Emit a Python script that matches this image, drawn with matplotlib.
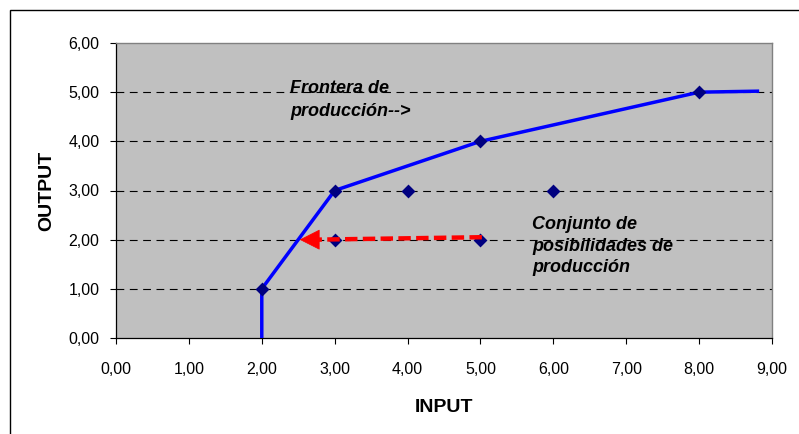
import matplotlib
matplotlib.use("Agg")
import matplotlib.pyplot as plt
from matplotlib.patches import Rectangle, FancyArrowPatch

plt.rcParams['font.family'] = ['Liberation Sans', 'DejaVu Sans']

# Production frontier (input -> output)
frontier_x = [2, 2, 3, 5, 8, 8.8]
frontier_y = [0, 1, 3, 4, 5, 5.02]

# Observed production units
obs_x = [2, 3, 3, 4, 5, 5, 6, 8]
obs_y = [1, 3, 2, 3, 4, 2, 3, 5]

# Projection of unit (5, 2) onto the frontier
arrow_start = (5.02, 2.05)
arrow_base = (2.72, 2.0)
arrow_end = (2.52, 2.0)

x_ticks = [0, 1, 2, 3, 4, 5, 6, 7, 8, 9]
y_ticks = [0, 1, 2, 3, 4, 5, 6]

W, H = 799, 434
fig = plt.figure(figsize=(W / 100, H / 100), dpi=100)
fig.patch.set_facecolor('white')

# outer chart border
fig.patches.append(Rectangle((10 / W, -0.1), 1.2, (H - 10) / H + 0.1,
                             transform=fig.transFigure, fill=False,
                             edgecolor='black', linewidth=1.0))

ax = fig.add_axes([116 / W, (H - 338) / H, (772 - 116) / W, (338 - 43) / H])
ax.set_facecolor('#C0C0C0')
ax.set_xlim(0, 9)
ax.set_ylim(0, 6)

for y in y_ticks[1:-1]:
    ax.axhline(y, color='black', linewidth=0.8, linestyle=(0, (7, 5)), zorder=1)

ax.plot(frontier_x, frontier_y, color='#0000FF', linewidth=2.5, zorder=3,
        solid_joinstyle='miter')
ax.scatter(obs_x, obs_y, marker='D', s=50, color='#000080', zorder=4,
           linewidths=0)

# dashed shaft + solid head
ax.plot([arrow_start[0], arrow_base[0]], [arrow_start[1], arrow_base[1]],
        color='#FF0000', linewidth=3.2, linestyle=(0, (2.8, 1.2)),
        solid_capstyle='butt', dash_capstyle='butt', zorder=5)
head = FancyArrowPatch((arrow_base[0] + 0.02, arrow_base[1]), arrow_end,
                       arrowstyle='-|>,head_length=0.75,head_width=0.38',
                       mutation_scale=18, color='#FF0000', linewidth=0.5,
                       zorder=5, shrinkA=0, shrinkB=0)
ax.add_patch(head)

ax.text(2.39, 4.84, 'Frontera de\nproducción-->', fontsize=13, fontweight='bold',
        fontstyle='italic', ha='left', va='center', linespacing=1.45, zorder=6)
ax.text(5.71, 1.87, 'Conjunto de\nposibilidades de\nproducción', fontsize=13,
        fontweight='bold', fontstyle='italic', ha='left', va='center',
        linespacing=1.35, zorder=6)

ax.set_xticks(x_ticks)
ax.set_yticks(y_ticks)
ax.set_xticklabels([f'{v:.2f}'.replace('.', ',') for v in x_ticks], fontsize=11.5)
ax.set_yticklabels([f'{v:.2f}'.replace('.', ',') for v in y_ticks], fontsize=11.5)
ax.tick_params(axis='y', direction='out', length=4, width=0.8, color='black', pad=8)
ax.tick_params(axis='x', direction='out', length=4, width=0.8, color='black', pad=13)

for side in ('left', 'bottom'):
    ax.spines[side].set_color('black')
    ax.spines[side].set_linewidth(0.9)
for side in ('top', 'right'):
    ax.spines[side].set_color('#808080')
    ax.spines[side].set_linewidth(1.0)

ax.set_xlabel('INPUT', fontsize=14, fontweight='bold', labelpad=16)
ax.set_ylabel('OUTPUT', fontsize=14, fontweight='bold', labelpad=9)

fig.savefig('out.png', dpi=100, facecolor='white')
